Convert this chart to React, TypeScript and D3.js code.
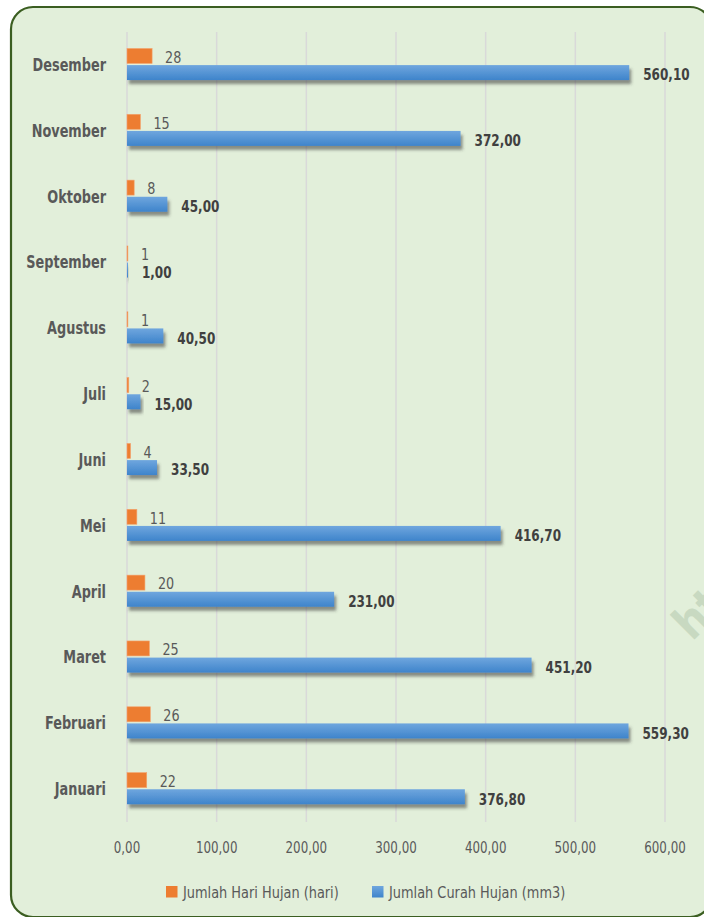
import React, { useEffect, useRef } from 'react';
import * as d3 from 'd3';

const months = ['Januari', 'Februari', 'Maret', 'April', 'Mei', 'Juni', 'Juli', 'Agustus', 'September', 'Oktober', 'November', 'Desember'];
const hariHujan = [22, 26, 25, 20, 11, 4, 2, 1, 1, 8, 15, 28];
const curahHujan = [376.8, 559.3, 451.2, 231.0, 416.7, 33.5, 15.0, 40.5, 1.0, 45.0, 372.0, 560.1];
const xTicks = [0, 100, 200, 300, 400, 500, 600];
const seriesNames = ['Jumlah Hari Hujan (hari)', 'Jumlah Curah Hujan (mm3)'];

const W = 704;
const H = 917;
const FONT = "'DejaVu Sans Condensed', 'Liberation Sans Narrow', sans-serif";

const fmt = (v: number) => v.toFixed(2).replace('.', ',');

// squeeze text horizontally so the condensed look of the original survives
function condense(sel: d3.Selection<SVGTextElement, any, any, any>, ratio: number) {
  sel.each(function () {
    const len = this.getComputedTextLength();
    if (len > 0) {
      d3.select(this)
        .attr('textLength', len * ratio)
        .attr('lengthAdjust', 'spacingAndGlyphs');
    }
  });
}

const App: React.FC = () => {
  const svgRef = useRef<SVGSVGElement>(null);

  useEffect(() => {
    if (!svgRef.current) return;
    const svg = d3.select(svgRef.current);
    svg.selectAll('*').remove();

    const defs = svg.append('defs');
    const grad = defs.append('linearGradient')
      .attr('id', 'blue-grad')
      .attr('x1', '0%').attr('y1', '0%')
      .attr('x2', '0%').attr('y2', '100%');
    grad.append('stop').attr('offset', '0%').attr('stop-color', '#6fa6de');
    grad.append('stop').attr('offset', '100%').attr('stop-color', '#3e84cb');

    const shadow = defs.append('filter')
      .attr('id', 'bar-shadow')
      .attr('x', '-10%').attr('y', '-50%')
      .attr('width', '130%').attr('height', '250%');
    shadow.append('feDropShadow')
      .attr('dx', 2).attr('dy', 4)
      .attr('stdDeviation', 1.8)
      .attr('flood-color', '#3a3a3a')
      .attr('flood-opacity', 0.55);

    defs.append('clipPath').attr('id', 'frame-clip')
      .append('rect')
      .attr('x', 11).attr('y', 7)
      .attr('width', 693).attr('height', 910)
      .attr('rx', 22);

    // frame
    svg.append('rect')
      .attr('x', 11).attr('y', 7)
      .attr('width', 701).attr('height', 910)
      .attr('rx', 22)
      .attr('fill', '#e2efda')
      .attr('stroke', '#3b5e21')
      .attr('stroke-width', 2.2);

    // watermark, mostly outside the picture
    svg.append('g')
      .attr('clip-path', 'url(#frame-clip)')
      .append('text')
      .attr('transform', 'translate(692,642) rotate(-45)')
      .attr('font-family', FONT)
      .attr('font-weight', 'bold')
      .attr('font-size', 46)
      .attr('fill', '#c8d9c1')
      .text('ht');

    const x = d3.scaleLinear().domain([0, 600]).range([127, 665]);
    const y = d3.scaleBand<string>()
      .domain([...months].reverse())
      .range([32, 822]);
    const bw = y.bandwidth();
    const sub = d3.scaleBand<string>()
      .domain(seriesNames)
      .range([bw * 0.25, bw * 0.73])
      .paddingInner(0.1);

    // gridlines
    svg.append('g')
      .selectAll('line')
      .data(xTicks)
      .join('line')
      .attr('x1', d => x(d)).attr('x2', d => x(d))
      .attr('y1', 32).attr('y2', 822)
      .attr('stroke', '#d9d9d9')
      .attr('stroke-width', 1.5);

    // tick labels
    svg.append('g')
      .selectAll('text')
      .data(xTicks)
      .join('text')
      .attr('x', d => x(d))
      .attr('y', 853)
      .attr('text-anchor', 'middle')
      .attr('font-family', FONT)
      .attr('font-size', 16.5)
      .attr('fill', '#595959')
      .text(d => fmt(d))
      .call(condense, 0.8);

    const rows = svg.append('g')
      .selectAll('g')
      .data(months)
      .join('g')
      .attr('transform', d => `translate(0,${y(d)})`);

    // category labels
    rows.append('text')
      .attr('x', 106)
      .attr('y', bw / 2)
      .attr('dy', '0.35em')
      .attr('text-anchor', 'end')
      .attr('font-family', FONT)
      .attr('font-weight', 'bold')
      .attr('font-size', 17)
      .attr('fill', '#595959')
      .text(d => d)
      .call(condense, 0.84);

    // orange bars (hari hujan)
    rows.append('rect')
      .attr('x', x(0))
      .attr('y', sub(seriesNames[0])!)
      .attr('width', (_, i) => x(hariHujan[i]) - x(0))
      .attr('height', sub.bandwidth())
      .attr('fill', '#ed7d31')
      .attr('stroke', '#f3a46e')
      .attr('stroke-width', 0.6);

    rows.append('text')
      .attr('x', (_, i) => x(hariHujan[i]) + 13)
      .attr('y', sub(seriesNames[0])! + sub.bandwidth() / 2 + 1)
      .attr('dy', '0.35em')
      .attr('font-family', FONT)
      .attr('font-size', 16.5)
      .attr('fill', '#595959')
      .text((_, i) => String(hariHujan[i]))
      .call(condense, 0.86);

    // blue bars (curah hujan)
    rows.append('rect')
      .attr('x', x(0))
      .attr('y', sub(seriesNames[1])!)
      .attr('width', (_, i) => Math.max(1, x(curahHujan[i]) - x(0)))
      .attr('height', sub.bandwidth())
      .attr('fill', 'url(#blue-grad)')
      .style('filter', 'url(#bar-shadow)');

    rows.append('text')
      .attr('x', (_, i) => x(curahHujan[i]) + 14)
      .attr('y', sub(seriesNames[1])! + sub.bandwidth() / 2 + 2)
      .attr('dy', '0.35em')
      .attr('font-family', FONT)
      .attr('font-weight', 'bold')
      .attr('font-size', 16.5)
      .attr('fill', '#404040')
      .text((_, i) => fmt(curahHujan[i]))
      .call(condense, 0.81);

    // legend
    const legendX = [166, 372];
    const legendColors = ['#ed7d31', 'url(#blue-grad)'];
    const legend = svg.append('g')
      .selectAll('g')
      .data(seriesNames)
      .join('g')
      .attr('transform', (_, i) => `translate(${legendX[i]},886)`);
    legend.append('rect')
      .attr('width', 11.5).attr('height', 11.5)
      .attr('fill', (_, i) => legendColors[i]);
    legend.append('text')
      .attr('x', 17)
      .attr('y', 6)
      .attr('dy', '0.35em')
      .attr('font-family', FONT)
      .attr('font-size', 16.5)
      .attr('fill', '#595959')
      .text(d => d)
      .call(condense, 0.87);
  }, []);

  return (
    <div style={{ position: 'absolute', left: 0, top: 0, width: W, height: H, background: '#ffffff' }}>
      <svg ref={svgRef} width={W} height={H} style={{ display: 'block' }} />
    </div>
  );
};

export default App;
